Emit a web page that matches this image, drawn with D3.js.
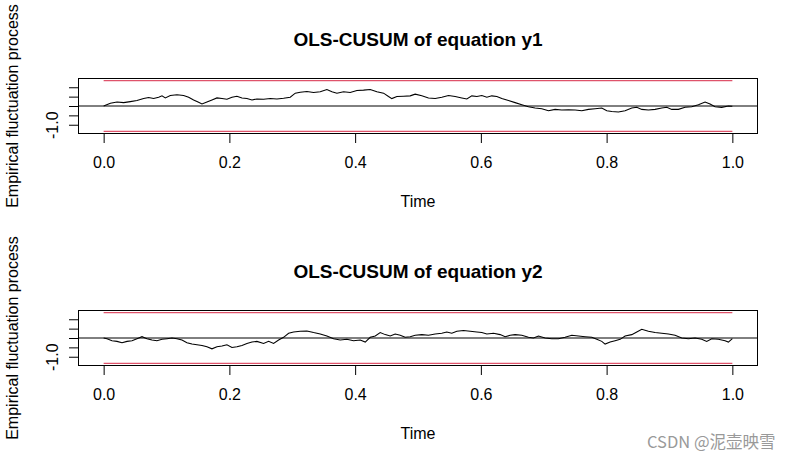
<!DOCTYPE html>
<html><head><meta charset="utf-8">
<script src="https://cdn.jsdelivr.net/npm/d3@7"></script>
<style>body{margin:0;background:#fff}svg{display:block}</style>
</head><body>
<svg id="c" width="797" height="463"></svg>
<script>
const titles = ["OLS-CUSUM of equation y1", "OLS-CUSUM of equation y2"];
const xTicks = [0, 0.2, 0.4, 0.6, 0.8, 1.0];
const xTickLabels = ["0.0", "0.2", "0.4", "0.6", "0.8", "1.0"];
const yTicks = [-1, -0.5, 0, 0.5, 1];
const yTickLabels = ["-1.0", "", "", "", ""];
const xLabel = "Time";
const yLabel = "Empirical fluctuation process";
const boundary = 1.358;
const watermark = "CSDN @泥壶映雪";

const y1Time = [0.0000,0.0107,0.0213,0.0318,0.0424,0.0530,0.0636,0.0716,0.0795,0.0875,0.0928,0.0981,0.1060,0.1166,0.1272,0.1352,0.1431,0.1510,0.1564,0.1643,0.1723,0.1802,0.1882,0.1961,0.2041,0.2120,0.2200,0.2279,0.2359,0.2438,0.2544,0.2650,0.2756,0.2862,0.2968,0.3048,0.3127,0.3233,0.3339,0.3445,0.3551,0.3631,0.3710,0.3816,0.3922,0.4028,0.4134,0.4240,0.4346,0.4452,0.4531,0.4584,0.4664,0.4770,0.4876,0.4955,0.5061,0.5167,0.5273,0.5379,0.5485,0.5591,0.5697,0.5777,0.5856,0.5936,0.6015,0.6095,0.6174,0.6254,0.6333,0.6439,0.6545,0.6651,0.6757,0.6863,0.6969,0.7075,0.7181,0.7287,0.7393,0.7499,0.7605,0.7711,0.7817,0.7923,0.8003,0.8082,0.8188,0.8294,0.8400,0.8480,0.8559,0.8665,0.8771,0.8877,0.8957,0.9036,0.9142,0.9248,0.9354,0.9460,0.9566,0.9645,0.9725,0.9831,0.9937,1.0000];
const y1Value = [0,0.144,0.216,0.180,0.234,0.288,0.396,0.450,0.396,0.468,0.541,0.432,0.559,0.595,0.559,0.468,0.324,0.198,0.108,0.216,0.324,0.432,0.396,0.360,0.468,0.523,0.432,0.396,0.324,0.378,0.360,0.396,0.378,0.414,0.468,0.685,0.739,0.775,0.721,0.757,0.883,0.757,0.685,0.757,0.721,0.829,0.847,0.883,0.757,0.685,0.505,0.396,0.505,0.523,0.541,0.631,0.541,0.432,0.396,0.468,0.559,0.505,0.432,0.378,0.541,0.505,0.559,0.468,0.541,0.505,0.396,0.288,0.180,0.072,-0.036,-0.108,-0.144,-0.252,-0.180,-0.216,-0.198,-0.216,-0.252,-0.180,-0.144,-0.108,-0.252,-0.288,-0.324,-0.252,-0.108,-0.072,-0.180,-0.216,-0.180,-0.108,-0.072,-0.180,-0.180,-0.072,-0.036,0.072,0.216,0.108,-0.036,-0.072,0,-0.018];

const y2Time = [0.0000,0.0053,0.0133,0.0213,0.0292,0.0372,0.0451,0.0530,0.0610,0.0689,0.0769,0.0848,0.0928,0.1008,0.1087,0.1166,0.1246,0.1325,0.1405,0.1484,0.1564,0.1643,0.1723,0.1802,0.1882,0.1961,0.2041,0.2120,0.2200,0.2279,0.2359,0.2438,0.2544,0.2624,0.2703,0.2783,0.2862,0.2942,0.3021,0.3127,0.3233,0.3339,0.3445,0.3551,0.3657,0.3763,0.3869,0.3975,0.4081,0.4161,0.4240,0.4320,0.4399,0.4479,0.4558,0.4637,0.4717,0.4796,0.4876,0.4955,0.5061,0.5167,0.5273,0.5379,0.5459,0.5538,0.5618,0.5724,0.5830,0.5936,0.6015,0.6095,0.6201,0.6307,0.6386,0.6466,0.6545,0.6651,0.6757,0.6837,0.6916,0.7022,0.7128,0.7234,0.7340,0.7446,0.7552,0.7658,0.7764,0.7844,0.7923,0.7976,0.8056,0.8135,0.8215,0.8294,0.8400,0.8480,0.8559,0.8665,0.8771,0.8877,0.8983,0.9089,0.9195,0.9301,0.9407,0.9513,0.9592,0.9672,0.9778,0.9884,0.9937,1.0000];
const y2Value = [0,-0.036,-0.144,-0.180,-0.252,-0.180,-0.144,-0.036,0.072,-0.036,-0.108,-0.144,-0.072,-0.036,0,-0.036,-0.108,-0.252,-0.324,-0.360,-0.396,-0.468,-0.577,-0.468,-0.432,-0.360,-0.505,-0.468,-0.396,-0.288,-0.216,-0.180,-0.288,-0.180,-0.288,-0.108,0.036,0.252,0.324,0.360,0.378,0.288,0.216,0.108,-0.036,-0.108,-0.072,-0.144,-0.108,-0.216,0.036,0.108,0.288,0.180,0.108,0.216,0.144,0.036,0.072,0.144,0.180,0.144,0.216,0.252,0.324,0.252,0.360,0.396,0.360,0.324,0.288,0.216,0.252,0.180,0.072,0.144,0.180,0.144,0.036,0,0.108,0,-0.036,-0.036,0.036,0.144,0.108,0.072,0.036,-0.072,-0.180,-0.324,-0.216,-0.144,-0.072,0.108,0.180,0.324,0.468,0.360,0.288,0.252,0.216,0.144,0,-0.036,0,-0.072,-0.180,-0.036,-0.072,-0.144,-0.216,-0.036];

const svg = d3.select("#c");
const font = "'Liberation Sans', Arial, sans-serif";
const panels = [
  {title: titles[0], time: y1Time, value: y1Value, top: 78.5, bottom: 133.5, off: 0},
  {title: titles[1], time: y2Time, value: y2Value, top: 310.5, bottom: 365.5, off: 232}
];
const boxLeft = 78.5, boxRight = 757.5;
const x = d3.scaleLinear().domain([-0.04, 1.04]).range([boxLeft, boxRight]);

panels.forEach(p => {
  const y = d3.scaleLinear().domain([-1.467, 1.467]).range([p.bottom, p.top]);
  const g = svg.append("g");
  [boundary, -boundary].forEach(b => {
    g.append("line").attr("x1", x(0)).attr("x2", x(1)).attr("y1", y(b)).attr("y2", y(b))
      .attr("stroke", "#DF536B").attr("stroke-width", 1.2);
  });
  g.append("line").attr("x1", boxLeft).attr("x2", boxRight).attr("y1", y(0)).attr("y2", y(0))
    .attr("stroke", "#000").attr("stroke-width", 1);
  const pts = p.time.map((t, i) => [t, p.value[i]]);
  g.append("path").datum(pts)
    .attr("d", d3.line().x(d => x(d[0])).y(d => y(d[1])))
    .attr("fill", "none").attr("stroke", "#000").attr("stroke-width", 1.05);
  g.append("rect").attr("x", boxLeft).attr("y", p.top)
    .attr("width", boxRight - boxLeft).attr("height", p.bottom - p.top)
    .attr("fill", "none").attr("stroke", "#000").attr("stroke-width", 1);
  const xa = g.append("g").attr("transform", `translate(0,${p.bottom})`)
    .call(d3.axisBottom(x).tickValues(xTicks).tickFormat((d, i) => xTickLabels[i]).tickSize(9.5).tickPadding(14));
  xa.select(".domain").attr("d", `M${x(0)},0H${x(1)}`);
  xa.selectAll("text").attr("font-family", font).attr("font-size", 16).attr("fill", "#000");
  const ya = g.append("g").attr("transform", `translate(${boxLeft},0)`)
    .call(d3.axisLeft(y).tickValues(yTicks).tickFormat((d, i) => yTickLabels[i]).tickSize(9.5));
  ya.select(".domain").remove();
  ya.selectAll("text").attr("font-family", font).attr("font-size", 16).attr("fill", "#000")
    .attr("text-anchor", "middle").attr("dy", 0).attr("x", 0)
    .attr("transform", "translate(-21,0) rotate(-90)");
  svg.append("text").attr("x", (boxLeft + boxRight) / 2).attr("y", 46 + p.off)
    .attr("text-anchor", "middle").attr("font-family", font).attr("font-weight", "bold")
    .attr("font-size", 19).text(p.title);
  svg.append("text").attr("x", (boxLeft + boxRight) / 2).attr("y", 207 + p.off)
    .attr("text-anchor", "middle").attr("font-family", font).attr("font-size", 16).text(xLabel);
  svg.append("text").attr("transform", `translate(18,${(p.top + p.bottom) / 2}) rotate(-90)`)
    .attr("text-anchor", "middle").attr("font-family", font).attr("font-size", 16).text(yLabel);
});

svg.append("text").attr("x", 647).attr("y", 448)
  .attr("font-family", "'Noto Sans CJK SC', sans-serif").attr("font-size", 16.5)
  .attr("fill", "#999").text(watermark);
</script>
</body></html>
